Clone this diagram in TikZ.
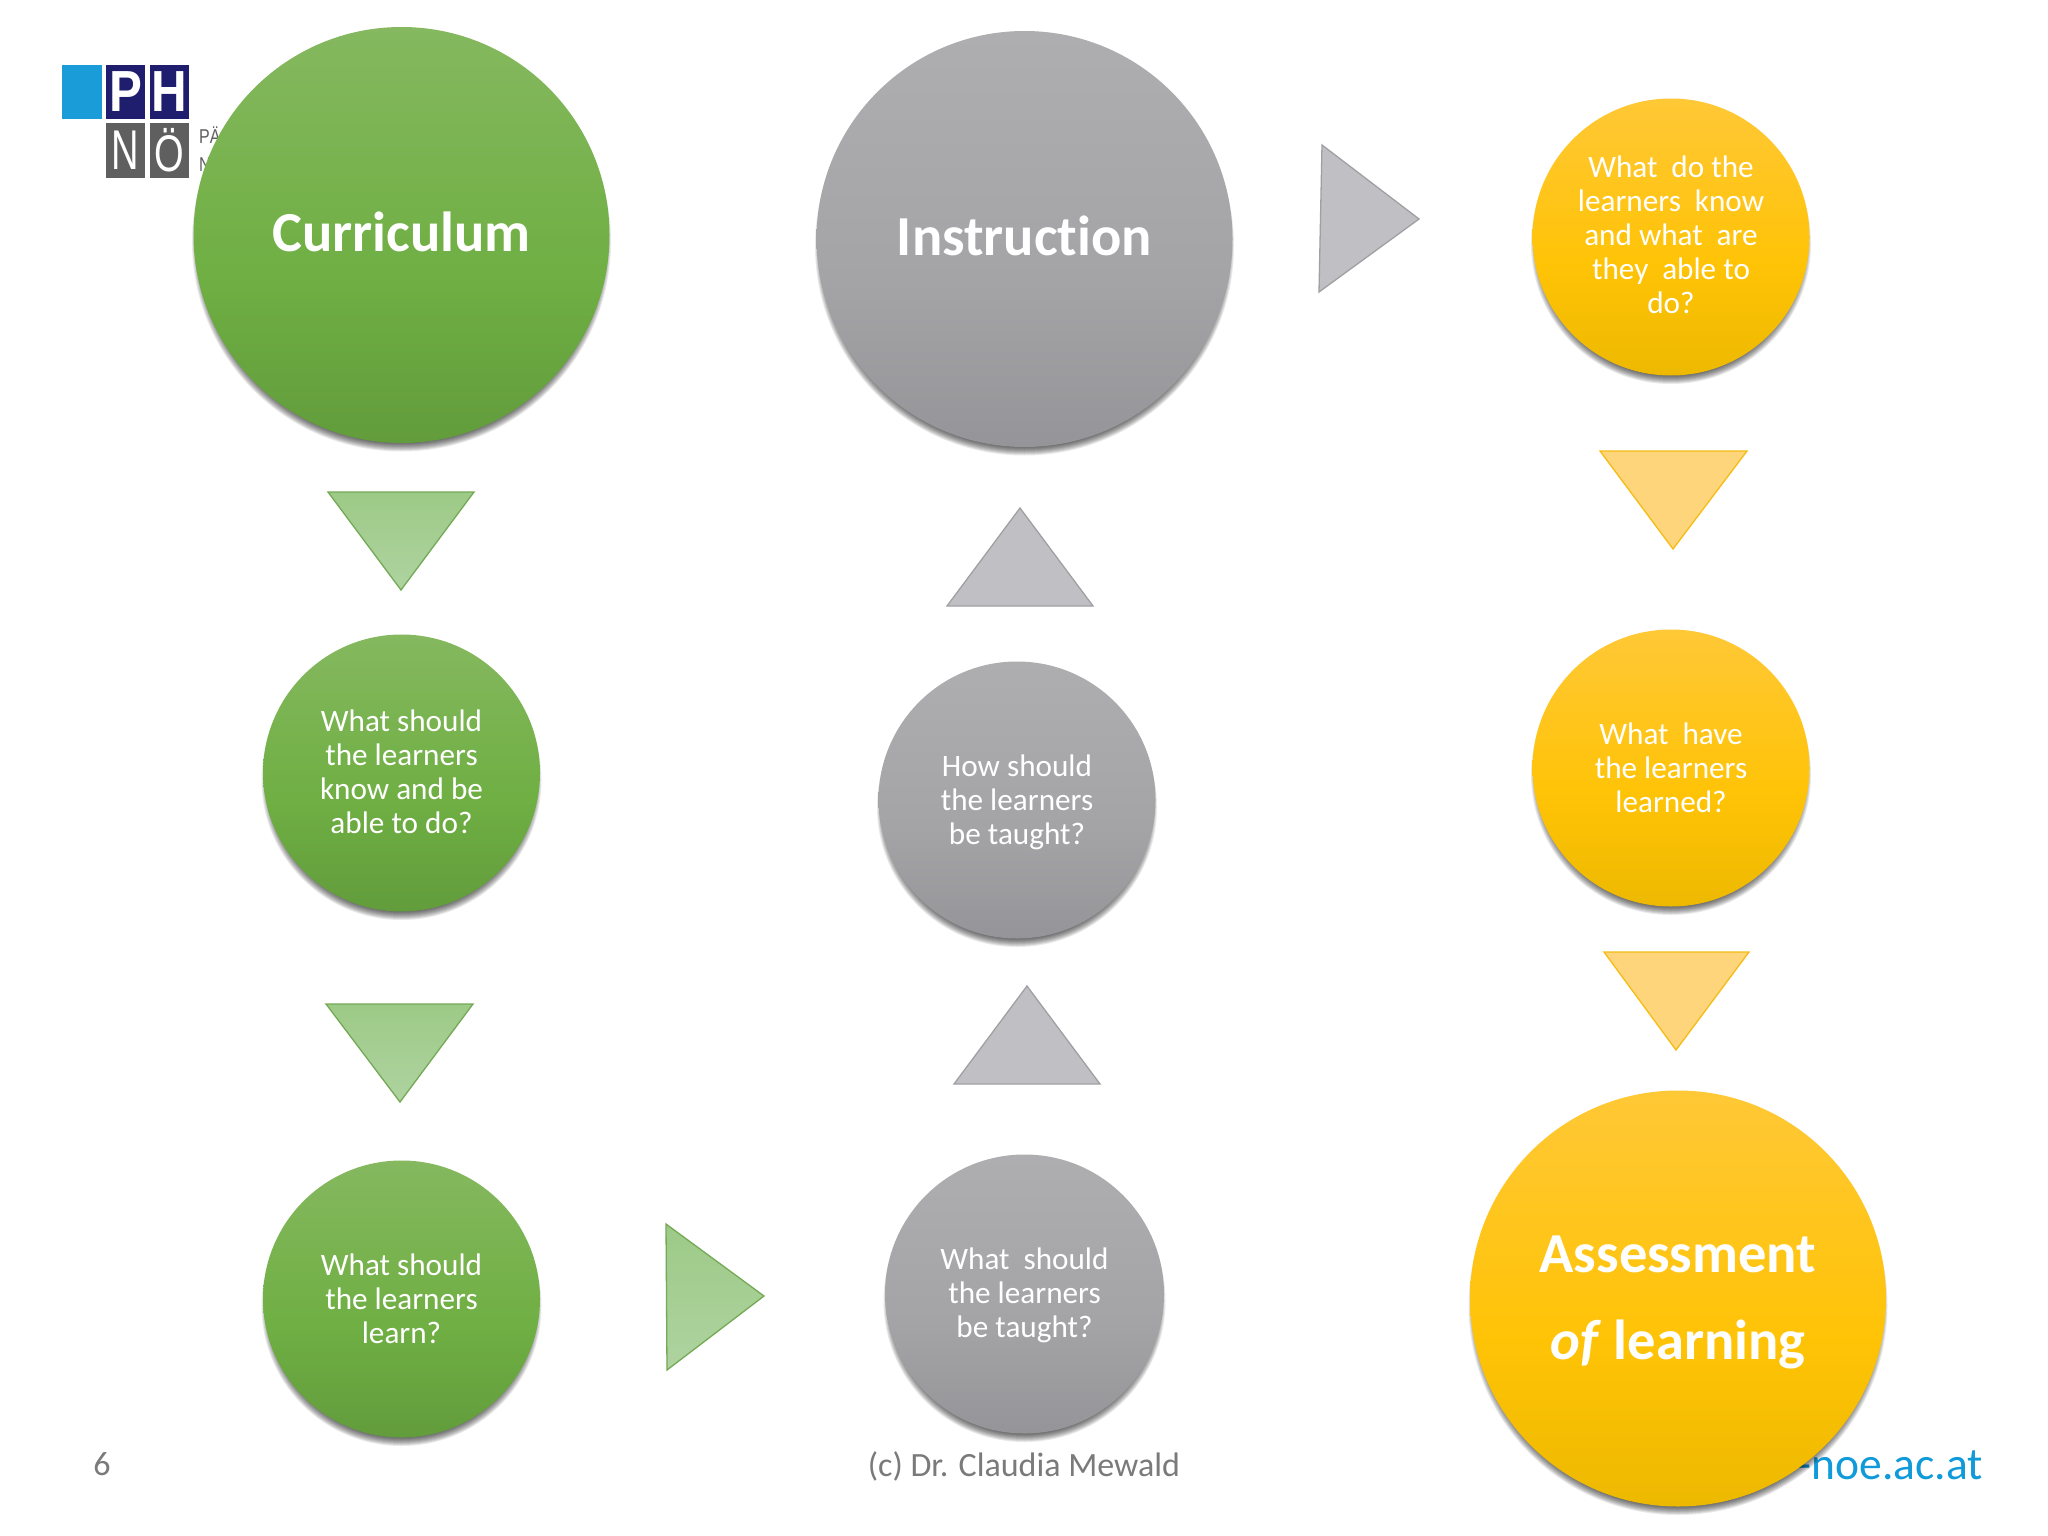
\documentclass[tikz,border=0pt]{standalone}
\usepackage{fontspec}
\usepackage{graphicx}
\setmainfont[Ligatures=CommonOff]{Carlito}
\newfontfamily\logofont{Liberation Sans}
\definecolor{gT}{HTML}{85B85F}\definecolor{gM}{HTML}{6FAF43}\definecolor{gB}{HTML}{629C3C}
\definecolor{kT}{HTML}{AEADAF}\definecolor{kM}{HTML}{A4A3A6}\definecolor{kB}{HTML}{959498}
\definecolor{yT}{HTML}{FFC836}\definecolor{yM}{HTML}{FFC306}\definecolor{yB}{HTML}{EDB900}
\definecolor{gTriT}{HTML}{9DCA87}\definecolor{gTriB}{HTML}{AED3A0}\definecolor{gLine}{HTML}{74A955}
\definecolor{kTri}{HTML}{C0BFC3}\definecolor{kLine}{HTML}{A0A0A3}
\definecolor{yTri}{HTML}{FFD57B}\definecolor{yLine}{HTML}{F5BC14}
\definecolor{navy}{HTML}{1F1E6E}\definecolor{logogray}{HTML}{5F5F60}\definecolor{logoblue}{HTML}{1A9CD8}
\definecolor{linkblue}{HTML}{0F9AD9}\definecolor{foot}{HTML}{7A7A7A}
\pgfdeclareverticalshading{greensh}{100bp}{color(0bp)=(gB); color(25bp)=(gB); color(45bp)=(gM); color(75bp)=(gT); color(100bp)=(gT)}
\pgfdeclareverticalshading{graysh}{100bp}{color(0bp)=(kB); color(25bp)=(kB); color(45bp)=(kM); color(75bp)=(kT); color(100bp)=(kT)}
\pgfdeclareverticalshading{yellowsh}{100bp}{color(0bp)=(yB); color(25bp)=(yB); color(45bp)=(yM); color(75bp)=(yT); color(100bp)=(yT)}
\newcommand{\softshadow}[3]{%
  \foreach \d in {0,1,...,9}{\fill[black,opacity=.085] (#1,#2+7) circle[radius=#3+1.5-\d];}}
\newcommand{\dsp}{\hspace{.22em}}
\tikzset{
  bigq/.style={circle,inner sep=0pt,minimum size=416pt},
  smallq/.style={circle,inner sep=0pt,minimum size=277pt},
  bigtext/.style={inner sep=0pt,text=white,align=center,font=\fontsize{56.5}{87}\selectfont\bfseries},
  smalltext/.style={inner sep=0pt,text=white,align=center,font=\fontsize{31.2}{34}\selectfont},
  greenc/.style={shading=greensh},
  grayc/.style={shading=graysh},
  yellowc/.style={shading=yellowsh},
  gtri/.style={top color=gTriT,bottom color=gTriB,draw=gLine,line width=1.3pt,line join=miter},
  ktri/.style={fill=kTri,draw=kLine,line width=1.3pt,line join=miter},
  ytri/.style={fill=yTri,draw=yLine,line width=1.3pt,line join=miter},
  logobox/.style={inner sep=0pt,minimum width=39pt,minimum height=54pt,text=white,font=\logofont\fontsize{56}{56}\selectfont},
  logobold/.style={logobox,fill=navy,font=\logofont\bfseries\fontsize{58}{58}\selectfont},
  logosmall/.style={inner sep=0pt,anchor=west,text=logogray,font=\logofont\fontsize{20}{20}\selectfont},
  footer/.style={inner sep=0pt,text=foot,font=\fontsize{34}{38}\selectfont},
}
\begin{document}
\begin{tikzpicture}[x=1pt,y=-1pt]
\useasboundingbox (0,0) rectangle (2048,1536);
\fill[white] (0,0) rectangle (2048,1536);
% logo
\node[fill=logoblue,minimum width=40pt,minimum height=54pt,inner sep=0pt] (lb) at (82,92) {};
\node[logobold] (lp) at (125.5,92) {\scalebox{.85}[1]{P}};
\node[logobold] (lh) at (169.5,92) {\scalebox{.85}[1]{H}};
\node[logobox,fill=logogray] (ln) at (125,150.5) {\scalebox{.68}[1]{N}};
\node[logobox,fill=logogray] (lo) at (169.5,150.5) {\scalebox{.68}[.92]{Ö}};
\node[logosmall] (lt1) at (199,135) {\scalebox{.8}[1]{PÄ}};
\node[logosmall] (lt2) at (199,165) {\scalebox{.8}[1]{N}};
% footer
\node[footer] (num) at (102,1464) {6};
\node[footer] (cr) at (1024,1466) {(c) Dr. Claudia Mewald};
\node[inner sep=0pt,anchor=east,text=linkblue,font=\fontsize{45.5}{50}\selectfont] (url) at (1983,1465) {-noe.ac.at};
% shadows
\softshadow{401.5}{235}{208}\softshadow{1024.5}{239}{208}\softshadow{1671}{237}{138.5}
\softshadow{401.5}{773}{138.5}\softshadow{1017}{800}{138.5}\softshadow{1671}{768}{138.5}
\softshadow{401.5}{1299}{138.5}\softshadow{1024.5}{1294}{139.5}\softshadow{1678}{1298.5}{208}
% circles
\node[bigq,greenc] (cur) at (401.5,235) {};
\node[bigq,grayc] (ins) at (1024.5,239) {};
\node[bigq,yellowc] (ass) at (1678,1298.5) {};
\node[smallq,greenc] (g1) at (401.5,773) {};
\node[smallq,greenc] (g2) at (401.5,1299) {};
\node[smallq,grayc] (k1) at (1017,800) {};
\node[smallq,grayc,minimum size=279pt] (k2) at (1024.5,1294) {};
\node[smallq,yellowc] (y1) at (1671,237) {};
\node[smallq,yellowc] (y2) at (1671,768) {};
% circle texts
\node[bigtext] (curt) at (401.5,232) {Curriculum};
\node[bigtext] (inst) at (1024.5,235.5) {Instruction};
\node[bigtext] (asst) at (1678,1302.5) {Assessment\\\textit{of} learning};
\node[smalltext] (g1t) at (401.5,772) {What should\\the learners\\know and be\\able to do?};
\node[smalltext] (g2t) at (401.5,1299) {What should\\the learners\\learn?};
\node[smalltext] (k1t) at (1017,802.5) {How should\\the learners\\be taught?};
\node[smalltext] (k2t) at (1024.5,1295.5) {What\dsp\ should\\the learners\\be taught?};
\node[smalltext] (y1t) at (1671,235) {What\dsp\ do the\\learners\dsp\ know\\and what\dsp\ are\\they\dsp\ able to\\do?};
\node[smalltext] (y2t) at (1671,768) {What\dsp\ have\\the learners\\learned?};
% triangles
\draw[gtri] (328,492) -- (474,492) -- (401,590) -- cycle;
\draw[gtri] (326,1004) -- (473,1004) -- (400,1102) -- cycle;
\draw[gtri] (666,1224) -- (764,1296) -- (667,1370) -- cycle;
\draw[ktri] (1020,508) -- (1093,606) -- (947,606) -- cycle;
\draw[ktri] (1027,986) -- (1100,1084) -- (954,1084) -- cycle;
\draw[ktri] (1322,145) -- (1419,219) -- (1319,292) -- cycle;
\draw[ytri] (1600,451) -- (1747,451) -- (1673,549) -- cycle;
\draw[ytri] (1604,952) -- (1749,952) -- (1676,1050) -- cycle;
\end{tikzpicture}
\end{document}
